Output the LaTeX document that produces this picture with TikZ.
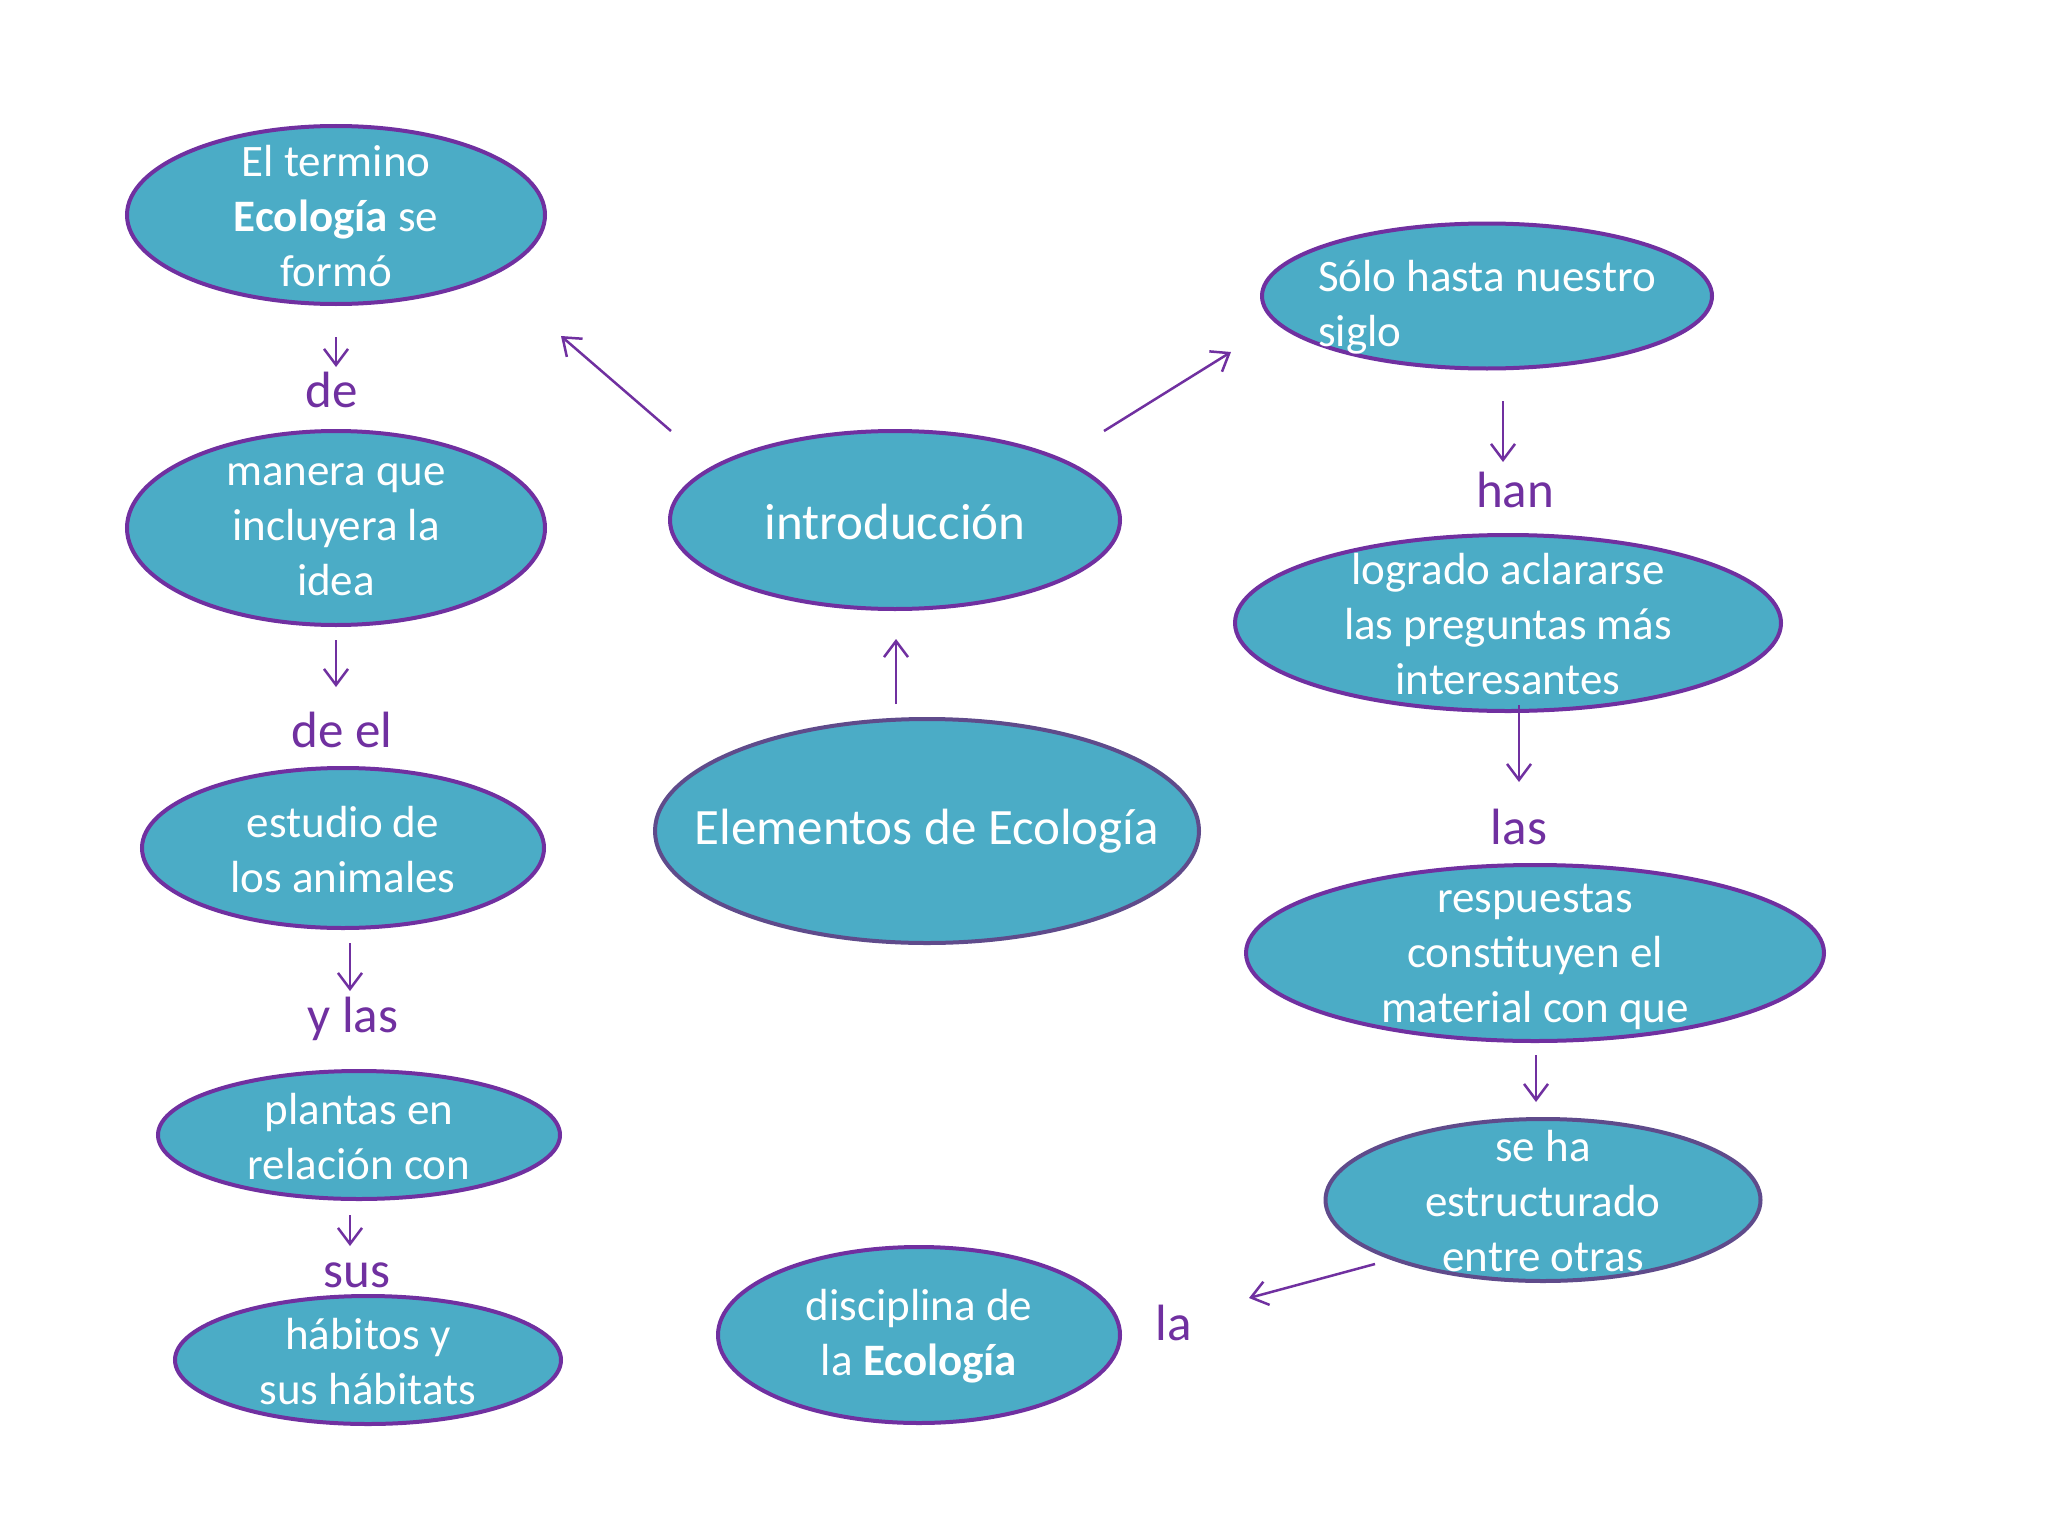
\documentclass[tikz,border=0pt]{standalone}
\usepackage{fontspec}
\setmainfont{Carlito}
\usetikzlibrary{shapes.geometric,arrows.meta}
\definecolor{aqua}{HTML}{4BACC6}
\definecolor{purp}{HTML}{7030A0}
\definecolor{dpurp}{HTML}{5F4B8B}
\begin{document}
\begin{tikzpicture}[x=1pt,y=-1pt,
 bub/.style={ellipse, draw=purp, line width=4pt, fill=aqua, inner sep=0pt},
 bubd/.style={bub, draw=dpurp},
 txt/.style={text=white, font=\fontsize{45}{55}\selectfont, align=center, inner sep=0pt, yshift=-1.5pt},
 bigtxt/.style={txt, font=\fontsize{51}{60}\selectfont},
 lbl/.style={text=purp, font=\fontsize{51}{60}\selectfont, inner sep=0pt},
 arr/.style={draw=purp, line width=2.5pt, -{Straight Barb[length=16pt,width=24pt]}}]
\fill[white] (0,0) rectangle (2048,1536);
\useasboundingbox (0,0) rectangle (2048,1536);

% left column
\node[bub, minimum width=418pt, minimum height=178pt] (n1) at (336,215) {};
\node[txt] (t1) at (n1.center) {El termino\\\textbf{Ecología} se\\formó};
\node[bub, minimum width=418pt, minimum height=194pt] (n2) at (336,528) {};
\node[txt] (t2) at (n2.center) {manera que\\incluyera la\\idea};
\node[bub, minimum width=402pt, minimum height=160pt] (n3) at (343,848) {};
\node[txt] (t3) at (n3.center) {estudio de\\los animales};
\node[bub, minimum width=402pt, minimum height=128pt] (n4) at (359,1135) {};
\node[txt] (t4) at (n4.center) {plantas en\\relación con};
\node[bub, minimum width=386pt, minimum height=128pt] (n5) at (368,1360) {};
\node[txt] (t5) at (n5.center) {hábitos y\\sus hábitats};

% centre
\node[bub, minimum width=450pt, minimum height=178pt] (n6) at (895,520) {};
\node[bigtxt] (t6) at (n6.center) {introducción};
\node[bubd, minimum width=544pt, minimum height=224pt] (n7) at (927,831) {};
\node[bigtxt] (t7) at ([yshift=1pt]n7.center) {Elementos de Ecología};
\node[bub, minimum width=402pt, minimum height=176pt] (n12) at (919,1335) {};
\node[txt] (t12) at (n12.center) {disciplina de\\la \textbf{Ecología}};

% right column
\node[bub, minimum width=450pt, minimum height=145pt] (n8) at (1487,296) {};
\node[txt, align=left] (t8) at ([yshift=-10pt]n8.center) {Sólo hasta nuestro\\siglo};
\node[bub, minimum width=546pt, minimum height=176pt] (n9) at (1508,623) {};
\node[txt] (t9) at (n9.center) {logrado aclararse\\las preguntas más\\interesantes};
\node[bub, minimum width=578pt, minimum height=176pt] (n10) at (1535,953) {};
\node[txt] (t10) at ([yshift=-2pt]n10.center) {respuestas\\constituyen el\\material con que};
\node[bubd, minimum width=435pt, minimum height=162pt] (n11) at (1543,1200) {};
\node[txt] (t11) at (n11.center) {se ha\\estructurado\\entre otras};

% linking words
\node[lbl] (l1) at (332,390) {de};
\node[lbl] (l2) at (342,730) {de el};
\node[lbl] (l3) at (353,1019) {y las};
\node[lbl] (l4) at (357,1275) {sus};
\node[lbl] (l5) at (1515,490) {han};
\node[lbl] (l6) at (1519,827) {las};
\node[lbl] (l7) at (1174,1323) {la};

% arrow ends
\coordinate (a1s) at (336,337); \coordinate (a1e) at (336,367);
\coordinate (a2s) at (336,640); \coordinate (a2e) at (336,687);
\coordinate (a3s) at (350,943); \coordinate (a3e) at (350,991);
\coordinate (a4s) at (350,1215); \coordinate (a4e) at (350,1246);
\coordinate (a5s) at (671,431); \coordinate (a5e) at (561,336);
\coordinate (a6s) at (1104,431); \coordinate (a6e) at (1231,352);
\coordinate (a7s) at (896,704); \coordinate (a7e) at (896,639);
\coordinate (a8s) at (1503,401); \coordinate (a8e) at (1503,462);
\coordinate (a9s) at (1519,705); \coordinate (a9e) at (1519,782);
\coordinate (a10s) at (1536,1055); \coordinate (a10e) at (1536,1102);
\coordinate (a11s) at (1375,1264); \coordinate (a11e) at (1249,1298);

\draw[arr] (a1s) -- (a1e);
\draw[arr] (a2s) -- (a2e);
\draw[arr] (a3s) -- (a3e);
\draw[arr] (a4s) -- (a4e);
\draw[arr] (a5s) -- (a5e);
\draw[arr] (a6s) -- (a6e);
\draw[arr] (a7s) -- (a7e);
\draw[arr] (a8s) -- (a8e);
\draw[arr] (a9s) -- (a9e);
\draw[arr] (a10s) -- (a10e);
\draw[arr] (a11s) -- (a11e);
\end{tikzpicture}
\end{document}
